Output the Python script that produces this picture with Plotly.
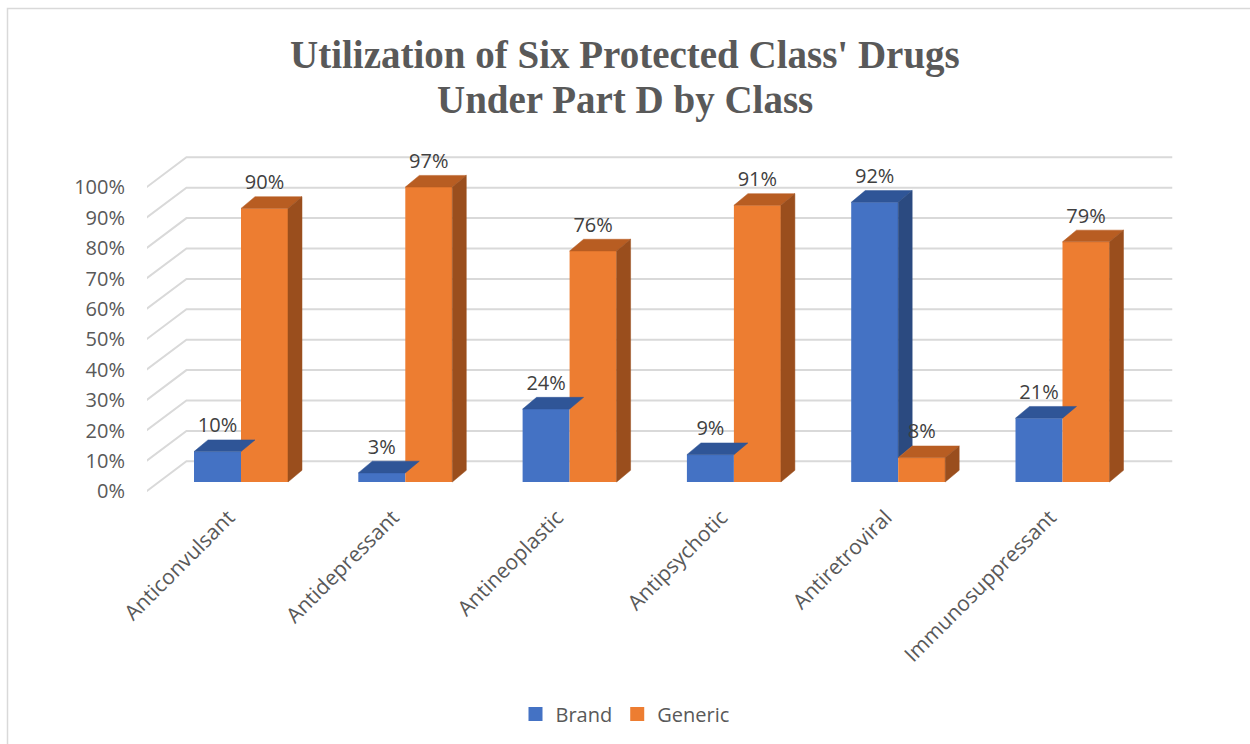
import plotly.graph_objects as go

# ---------------- data ----------------
categories = ["Anticonvulsant", "Antidepressant", "Antineoplastic",
              "Antipsychotic", "Antiretroviral", "Immunosuppressant"]
brand = [10, 3, 24, 9, 92, 21]
generic = [90, 97, 76, 91, 8, 79]
tick_values = [0, 10, 20, 30, 40, 50, 60, 70, 80, 90, 100]
tick_labels = [f"{v}%" for v in tick_values]
series_names = ["Brand", "Generic"]
title_lines = ["Utilization of Six Protected Class' Drugs", "Under Part D by Class"]

# ---------------- styling / geometry ----------------
FRONT = {"Brand": "#4472C4", "Generic": "#ED7D31"}
TOP = {"Brand": "#2F5597", "Generic": "#B85D22"}
SIDE = {"Brand": "#2B4A80", "Generic": "#9A4E1D"}
TEXT = "#595959"
LABEL = "#404040"
GRID = "#D9D9D9"
FONT = "Open Sans"

W, H = 1250, 744
ML, MR, MT, MB = 147, 76, 150, 252
PLOT_W = W - ML - MR
PLOT_H = H - MT - MB

BAR_W = 0.286          # bar width in category units
BAR_DX = 0.0852        # bar depth (x, category units)
BAR_DY = 3.85          # bar depth (y, percent units)
WALL_DX = 0.2435       # wall depth x
WALL_DY = 9.87         # wall depth y
FRAC = 0.31            # bar plane position (from front)
LABEL_GAP = 8.0

n = len(categories)
xs = list(range(n))
series = [("Brand", brand, -BAR_W), ("Generic", generic, 0.0)]

fig = go.Figure()

# front faces as bars
for name, vals, off in series:
    fig.add_trace(go.Bar(
        x=xs, y=vals, width=[BAR_W] * n, offset=[off] * n, name=name,
        marker=dict(color=FRONT[name], line=dict(width=0)),
        showlegend=False, hoverinfo="skip"))

# gridlines (side wall + back wall) as shapes below the traces
front_left = -0.5 - FRAC * WALL_DX
back_left = front_left + WALL_DX
back_right = back_left + n
shapes = []
for v in tick_values:
    yf = v - FRAC * WALL_DY
    yb = yf + WALL_DY
    shapes.append(dict(
        type="path", xref="x", yref="y", layer="below",
        path=f"M {front_left},{yf} L {back_left},{yb} L {back_right},{yb}",
        line=dict(color=GRID, width=2)))

# outer chart border (only top/left edges visible in the window)
shapes.append(dict(
    type="rect", xref="paper", yref="paper",
    xsizemode="pixel", ysizemode="pixel", xanchor=0, yanchor=0,
    x0=-139.5, x1=1110, y0=-260, y1=483.5,
    line=dict(color="#D9D9D9", width=1.5), fillcolor="rgba(0,0,0,0)",
    layer="below"))

# 3D faces (top and side)
def poly(xp, yp, color):
    fig.add_trace(go.Scatter(
        x=xp + [xp[0]], y=yp + [yp[0]], fill="toself", fillcolor=color,
        mode="lines", line=dict(width=0.5, color=color),
        showlegend=False, hoverinfo="skip"))

for i in range(n):
    for name, vals, off in series:
        v = vals[i]
        x0 = i + off
        x1 = x0 + BAR_W
        poly([x0, x1, x1 + BAR_DX, x0 + BAR_DX], [v, v, v + BAR_DY, v + BAR_DY], TOP[name])
        base = min(generic[i], v) if name == "Brand" else 0
        if v > base:
            poly([x1, x1, x1 + BAR_DX, x1 + BAR_DX],
                 [base, v, v + BAR_DY, base + BAR_DY], SIDE[name])

# data labels
for name, vals, off in series:
    fig.add_trace(go.Scatter(
        x=[i + off + BAR_W / 2 for i in xs], y=[v + LABEL_GAP for v in vals],
        mode="text", text=[f"{v}%" for v in vals],
        textfont=dict(family=FONT, size=20, color=LABEL),
        showlegend=False, hoverinfo="skip"))

# legend entries
for name, vals, off in series:
    fig.add_trace(go.Scatter(
        x=[None], y=[None], mode="markers", name=name,
        marker=dict(symbol="square", size=14, color=FRONT[name]),
        showlegend=True, hoverinfo="skip"))

# title as two lines (tighter line spacing)
title_px_y = [55, 100]
annotations = []
for txt, py in zip(title_lines, title_px_y):
    annotations.append(dict(
        text=f"<b>{txt}</b>", xref="paper", yref="paper",
        x=(W / 2 - ML) / PLOT_W, y=(H - MB - py) / PLOT_H,
        xanchor="center", yanchor="middle", showarrow=False,
        font=dict(family="Liberation Serif", size=39, color=TEXT)))

fig.update_layout(
    width=W, height=H,
    margin=dict(l=ML, r=MR, t=MT, b=MB),
    paper_bgcolor="white", plot_bgcolor="white",
    barmode="overlay",
    annotations=annotations,
    xaxis=dict(
        range=[-0.5721, 5.6786], tickvals=[i - FRAC * WALL_DX for i in xs],
        ticktext=categories,
        tickangle=-45, showgrid=False, zeroline=False, showline=False,
        ticks="", ticklabelstandoff=8,
        tickfont=dict(family=FONT, size=21, color=TEXT),
        fixedrange=True),
    yaxis=dict(
        range=[-3.289, 109.21],
        tickvals=[v - FRAC * WALL_DY for v in tick_values], ticktext=tick_labels,
        showgrid=False, zeroline=False, showline=False, ticks="",
        ticklabelstandoff=21,
        tickfont=dict(family=FONT, size=20, color=TEXT), fixedrange=True),
    legend=dict(
        orientation="h", x=0.5, xref="container", xanchor="center",
        y=1 - 714 / 744, yref="container", yanchor="middle",
        font=dict(family=FONT, size=20, color=TEXT), itemwidth=30,
        traceorder="normal"),
    shapes=shapes,
    showlegend=True,
)

fig.write_html("out.html", config={"displayModeBar": False},
               post_script="document.body.style.margin='0';")
